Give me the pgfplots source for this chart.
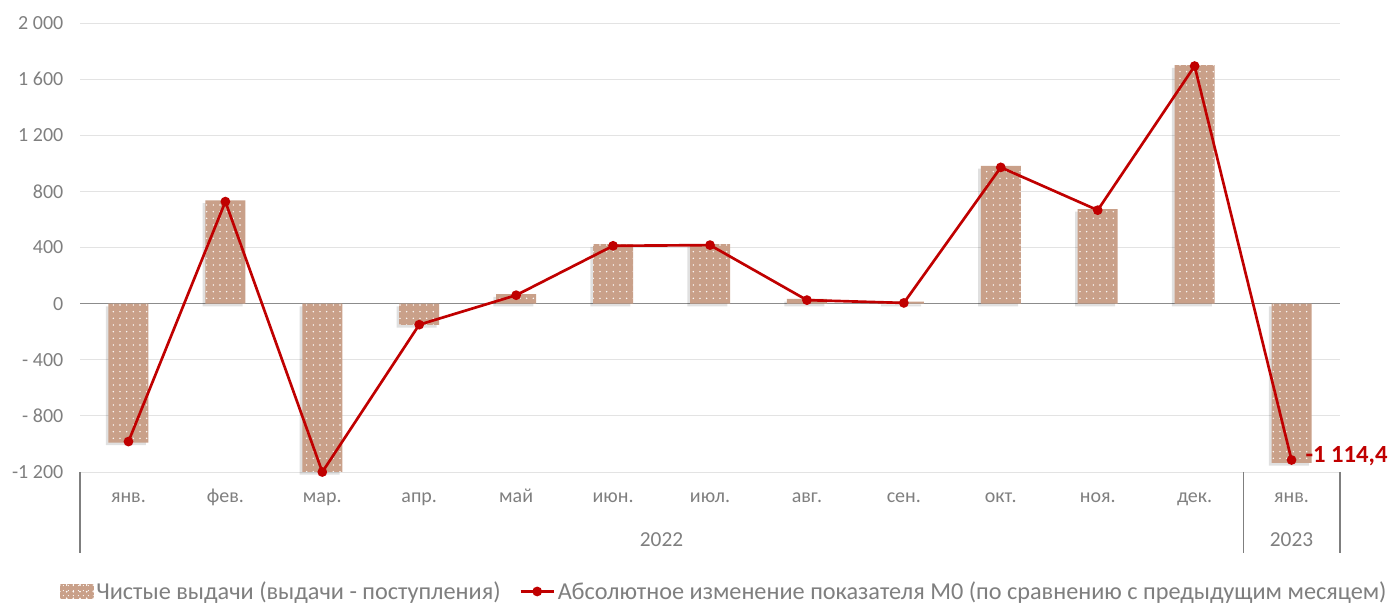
\documentclass[border=0pt]{standalone}
\usepackage{fontspec}
\setmainfont{Carlito}
\usepackage{pgfplots}
\pgfplotsset{compat=1.18}
\usetikzlibrary{patterns.meta}
\definecolor{barc}{HTML}{C9A089}
\definecolor{linec}{HTML}{C00000}
\definecolor{txt}{HTML}{7F7F7F}
\definecolor{gridc}{HTML}{E3E3E3}
\definecolor{zeroc}{HTML}{8C8C8C}
\pgfplotstableread{
x y
0 -990
1 735
2 -1200
3 -152
4 67
5 424
6 424
7 34
8 14
9 981
10 674
11 1700
12 -1135
}\bars
\pgfplotstableread{
x y
0 -983
1 727
2 -1200
3 -150
4 60
5 412
6 417
7 25
8 5
9 971
10 666
11 1693
12 -1114.4
}\mzero
\begin{document}
\begin{tikzpicture}
\begin{axis}[
  scale only axis, width=945pt, height=336.75pt,
  xmin=-0.5, xmax=12.5, ymin=-1200, ymax=2000,
  axis line style={draw=none}, major tick length=0pt,
  ytick={-1200,-800,...,2000},
  yticklabels={{-1 200},{- 800},{- 400},{0},{400},{800},{1 200},{1 600},{2 000}},
  xtick={0,...,12},
  xticklabels={янв.,фев.,мар.,апр.,май,июн.,июл.,авг.,сен.,окт.,ноя.,дек.,янв.},
  ymajorgrids, major grid style={draw=gridc, line width=0.6pt},
  ticklabel style={font=\fontsize{15}{18}\selectfont, text=txt},
  yticklabel style={xshift=-9pt},
  xticklabel style={text height=11pt, text depth=3pt, yshift=-8pt},
  clip=false,
  legend columns=2,
  legend style={draw=none, at={(0.5,0)}, anchor=north, yshift=-80pt, xshift=11pt,
    font=\fontsize{18.2}{21}\selectfont, text=txt, inner sep=0pt,
    /tikz/every even column/.append style={column sep=12pt}},
]
\draw[zeroc, line width=1pt] (axis cs:-0.5,0) -- (axis cs:12.5,0);
\addplot[ybar, bar width=30pt, bar shift=-2pt, fill=black, fill opacity=0.12, draw=none, yshift=-2pt, forget plot] table {\bars};
\addplot[ybar, bar width=30pt, fill=barc, draw=none,
  postaction={pattern={Dots[distance=5pt,radius=0.6pt]}, pattern color=white},
  legend image code/.code={
    \fill[barc] (0pt,-5.5pt) rectangle (25pt,5.5pt);
    \fill[pattern={Dots[distance=4pt,radius=0.5pt]}, pattern color=white] (0pt,-5.5pt) rectangle (25pt,5.5pt);}
  ] table {\bars};
\addlegendentry{Чистые выдачи (выдачи - поступления)}
\addplot[linec, line width=2pt, mark=*, mark size=2.6pt, mark options={solid, fill=linec},
  legend image code/.code={
    \draw[linec, line width=2pt] (0pt,0pt) -- (25pt,0pt);
    \fill[linec] (12.5pt,0pt) circle (2.6pt);}
  ] table {\mzero};
\addlegendentry{Абсолютное изменение показателя М0 (по сравнению с предыдущим месяцем)}
\draw[txt, line width=0.8pt] (axis cs:-0.5,-1200) -- ++(0pt,-61pt);
\draw[txt, line width=0.8pt] (axis cs:11.5,-1200) -- ++(0pt,-61pt);
\draw[txt, line width=0.8pt] (axis cs:12.5,-1200) -- ++(0pt,-61pt);
\node[text=txt, font=\fontsize{16}{19}\selectfont] at (axis cs:5.5,-1200) [yshift=-51pt] {2022};
\node[text=txt, font=\fontsize{16}{19}\selectfont] at (axis cs:12,-1200) [yshift=-51pt] {2023};
\node[anchor=west, text=linec, font=\bfseries\fontsize{18.5}{22}\selectfont] at (axis cs:12,-1114.4) [xshift=7pt, yshift=3pt] {-1 114,4};
\end{axis}
\pgfresetboundingbox
\path (-60pt,-99.75pt) rectangle (989.25pt,354pt);
\end{tikzpicture}
\end{document}
